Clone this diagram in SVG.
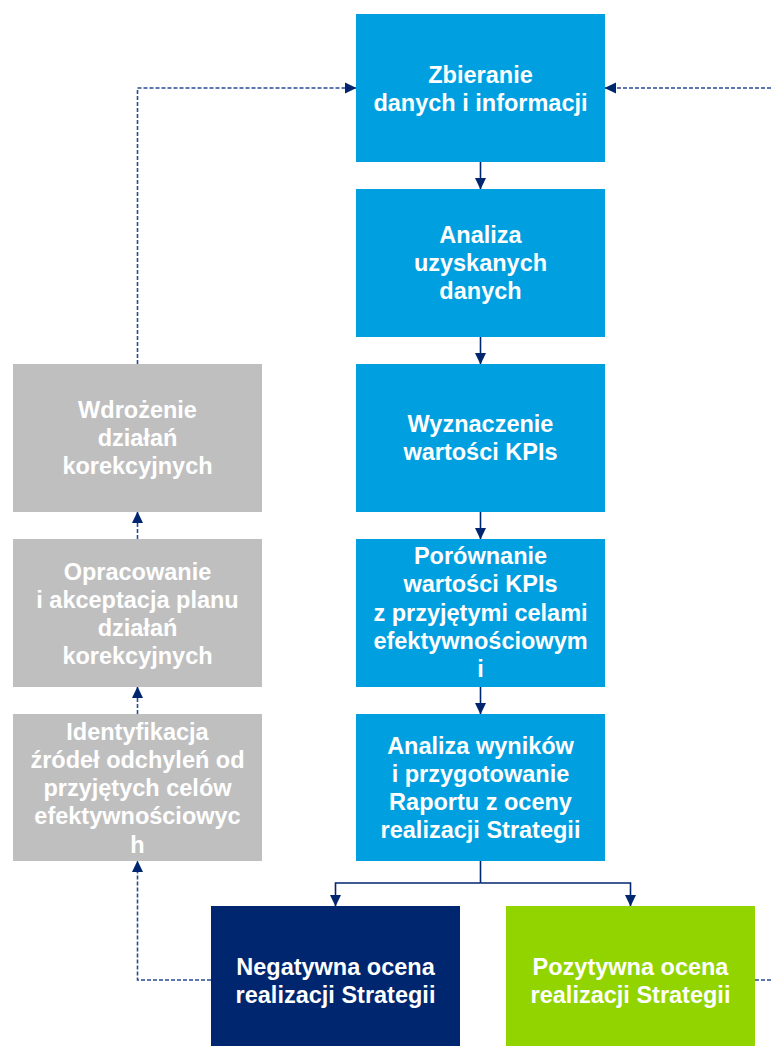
<svg xmlns="http://www.w3.org/2000/svg" width="771" height="1046" viewBox="0 0 771 1046">
<style>
.box{stroke:none}
.blue{fill:#009FDF}
.gray{fill:#BFBFBF}
.navy{fill:#00266F}
.green{fill:#92D400}
text{font-family:"Liberation Sans",Arial,sans-serif;font-weight:bold;font-size:23.5px;fill:#FFFFFF;text-anchor:middle}
.solid{fill:none;stroke:#00266F;stroke-width:1.6}
.dash{fill:none;stroke:#2A4A94;stroke-width:1.6;stroke-dasharray:4 2}
</style>
<defs>
<marker id="ah" markerUnits="userSpaceOnUse" markerWidth="12" markerHeight="12" viewBox="0 0 12 12" refX="11" refY="6" orient="auto">
<path d="M0,0.5 L11.5,6 L0,11.5 Z" fill="#00266F"/>
</marker>
</defs>
<g id="connectors">
<line class="solid" x1="480.5" y1="162" x2="480.5" y2="189" marker-end="url(#ah)"/>
<line class="solid" x1="480.5" y1="337" x2="480.5" y2="364" marker-end="url(#ah)"/>
<line class="solid" x1="480.5" y1="512" x2="480.5" y2="539" marker-end="url(#ah)"/>
<line class="solid" x1="480.5" y1="687" x2="480.5" y2="714" marker-end="url(#ah)"/>
<polyline class="solid" points="480.5,861 480.5,883"/>
<polyline class="solid" points="480.5,883 335.5,883 335.5,906" marker-end="url(#ah)"/>
<polyline class="solid" points="480.5,883 630.5,883 630.5,906" marker-end="url(#ah)"/>
<polyline class="dash" points="211,980 137.5,980 137.5,861" marker-end="url(#ah)"/>
<line class="dash" x1="137.5" y1="714" x2="137.5" y2="687" marker-end="url(#ah)"/>
<line class="dash" x1="137.5" y1="539" x2="137.5" y2="512" marker-end="url(#ah)"/>
<polyline class="dash" points="137.5,364 137.5,88 356,88" marker-end="url(#ah)"/>
<line class="dash" x1="771" y1="88" x2="605" y2="88" marker-end="url(#ah)"/>
<line class="dash" x1="755" y1="980" x2="771" y2="980"/>
</g>
<g id="n1"><rect class="box blue" x="356" y="14" width="249" height="148"/>
<text x="480.5" y="82.5">Zbieranie</text><text x="480.5" y="110.5">danych i informacji</text></g>
<g id="n2"><rect class="box blue" x="356" y="189" width="249" height="148"/>
<text x="480.5" y="243">Analiza</text><text x="480.5" y="271">uzyskanych</text><text x="480.5" y="299">danych</text></g>
<g id="n3"><rect class="box blue" x="356" y="364" width="249" height="148"/>
<text x="480.5" y="432">Wyznaczenie</text><text x="480.5" y="460">wartości KPIs</text></g>
<g id="n4"><rect class="box blue" x="356" y="539" width="249" height="148"/>
<text x="480.5" y="564">Porównanie</text><text x="480.5" y="592.3">wartości KPIs</text><text x="480.5" y="620.6">z przyjętymi celami</text><text x="480.5" y="648.9">efektywnościowym</text><text x="480.5" y="677.2">i</text></g>
<g id="n5"><rect class="box blue" x="356" y="714" width="249" height="147"/>
<text x="480.5" y="753.5">Analiza wyników</text><text x="480.5" y="781.5">i przygotowanie</text><text x="480.5" y="809.5">Raportu z oceny</text><text x="480.5" y="837.5">realizacji Strategii</text></g>
<g id="g1"><rect class="box gray" x="13" y="364" width="249" height="148"/>
<text x="137.5" y="418">Wdrożenie</text><text x="137.5" y="446">działań</text><text x="137.5" y="474">korekcyjnych</text></g>
<g id="g2"><rect class="box gray" x="13" y="539" width="249" height="148"/>
<text x="137.5" y="579.5">Opracowanie</text><text x="137.5" y="607.5">i akceptacja planu</text><text x="137.5" y="635.5">działań</text><text x="137.5" y="663.5">korekcyjnych</text></g>
<g id="g3"><rect class="box gray" x="13" y="714" width="249" height="147"/>
<text x="137.5" y="739.5">Identyfikacja</text><text x="137.5" y="767.8">źródeł odchyleń od</text><text x="137.5" y="796.1">przyjętych celów</text><text x="137.5" y="824.4">efektywnościowyc</text><text x="137.5" y="852.7">h</text></g>
<g id="neg"><rect class="box navy" x="211" y="906" width="249" height="148"/>
<text x="335.5" y="974.5">Negatywna ocena</text><text x="335.5" y="1002.5">realizacji Strategii</text></g>
<g id="pos"><rect class="box green" x="506" y="906" width="249" height="148"/>
<text x="630.5" y="974.5">Pozytywna ocena</text><text x="630.5" y="1002.5">realizacji Strategii</text></g>
</svg>
